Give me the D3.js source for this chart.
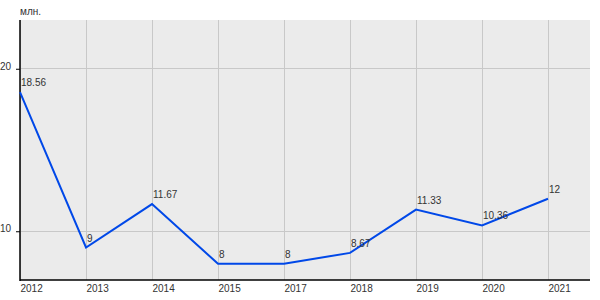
<!DOCTYPE html>
<html><head><meta charset="utf-8">
<script src="https://cdn.jsdelivr.net/npm/d3@7"></script>
<style>body{margin:0;background:#fff;} text{font-family:"Liberation Sans",Arial,sans-serif;}</style>
</head><body><svg id="c" width="600" height="300"></svg>
<script>
const years = ["2012","2013","2014","2015","2017","2018","2019","2020","2021"];
const values = [18.56, 9, 11.67, 8, 8, 8.67, 11.33, 10.36, 12];
const labels = ["18.56","9","11.67","8","8","8.67","11.33","10.36","12"];
const yTicks = [10, 20];
const unit = "млн.";

const svg = d3.select("#c");
const L = 20, R = 590, T = 20, B = 280;
const x = d3.scalePoint().domain(years).range([L, L + 66 * (years.length - 1)]);
const y = d3.scaleLinear().domain([7, 23]).range([B, T]);

svg.append("rect").attr("x", L).attr("y", T).attr("width", R - L).attr("height", B - T).attr("fill", "#ebebeb");

// grid
svg.append("g").selectAll("line").data(years).join("line")
  .attr("x1", d => x(d)).attr("x2", d => x(d)).attr("y1", T).attr("y2", B)
  .attr("stroke", "#c8c8c8").attr("stroke-width", 1).attr("shape-rendering", "crispEdges");
svg.append("g").selectAll("line").data(yTicks).join("line")
  .attr("x1", L).attr("x2", R).attr("y1", d => y(d)).attr("y2", d => y(d))
  .attr("stroke", "#c8c8c8").attr("stroke-width", 1).attr("shape-rendering", "crispEdges");

// y axis
const yAxis = svg.append("g").attr("transform", `translate(${L},0)`)
  .call(d3.axisLeft(y).tickValues(yTicks).tickSize(4).tickPadding(5).tickFormat(d3.format("d")));
yAxis.select(".domain").remove();
yAxis.selectAll("line").attr("stroke", "#000");
yAxis.selectAll("text").attr("font-size", 10).attr("fill", "#333").attr("dy", "0.05em");

svg.append("line").attr("x1", L).attr("x2", L).attr("y1", T).attr("y2", B + 1).attr("stroke", "#000").attr("stroke-width", 1.5);
svg.append("line").attr("x1", L).attr("x2", R).attr("y1", B).attr("y2", B).attr("stroke", "#000").attr("stroke-width", 1.5);

// x labels
const xAxis = svg.append("g").attr("transform", `translate(0,${B})`)
  .call(d3.axisBottom(x).tickSize(0).tickPadding(5));
xAxis.select(".domain").remove();
xAxis.selectAll("text").attr("font-size", 10).attr("fill", "#333").attr("text-anchor", "start").attr("dx", 0);

// unit
svg.append("text").attr("x", L).attr("y", 15).attr("font-size", 10).attr("fill", "#333").text(unit);

// line
const line = d3.line().x((d, i) => x(years[i])).y(d => y(d));
svg.append("path").datum(values).attr("d", line).attr("fill", "none")
  .attr("stroke", "#0048e8").attr("stroke-width", 2);

// data labels
svg.append("g").selectAll("text").data(values).join("text")
  .attr("x", (d, i) => x(years[i]) + 1).attr("y", d => y(d) - 6)
  .attr("font-size", 10).attr("fill", "#333").text((d, i) => labels[i]);
</script></body></html>
